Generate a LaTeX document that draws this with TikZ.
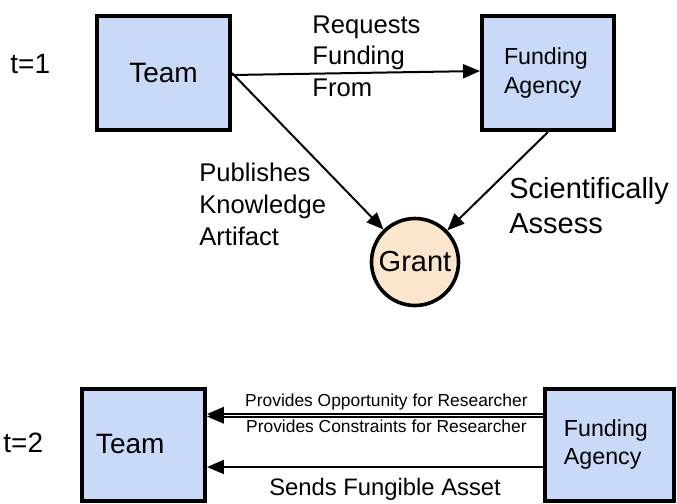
\documentclass[tikz,border=0pt]{standalone}
\usepackage{fontspec}
\setmainfont{Liberation Sans}
\usepackage{xcolor}
\usepackage{tikz}
\usetikzlibrary{arrows.meta}
\definecolor{boxblue}{HTML}{C9DAF8}
\definecolor{grantorange}{HTML}{FCE5CD}

\begin{document}
\begin{tikzpicture}[x=0.5pt,y=-0.5pt,
  box/.style={rectangle, draw, line width=2pt, fill=boxblue, inner sep=0pt},
  lbl/.style={inner sep=0pt, align=left, anchor=north west},
  arr/.style={-{Triangle[length=8.5pt,width=7pt]}, line width=1pt}]
\useasboundingbox (0,0) rectangle (677,504);
% t=1
\node[anchor=base west, inner sep=0pt, font=\fontsize{14}{17}\selectfont] (t1) at (10,73) {t=1};
\node[box, minimum width=66.5pt, minimum height=57pt, font=\fontsize{14}{17}\selectfont] (team1) at (163.5,73) {Team};
\node[box, minimum width=66pt, minimum height=57pt, inner xsep=11pt, text width=44pt, align=left, font=\fontsize{11.6}{14.5}\selectfont] (fund1) at (548,73) {Funding\\Agency};
\node[circle, draw, line width=1.8pt, fill=grantorange, minimum size=43.5pt, inner sep=0pt, font=\fontsize{14.5}{17}\selectfont] (grant) at (415,262) {Grant};
\node[lbl, font=\fontsize{12.8}{15.8}\selectfont] (req) at (312,15) {Requests\\Funding\\From};
\node[lbl, font=\fontsize{12.8}{15.8}\selectfont] (pub) at (199,163) {Publishes\\Knowledge\\Artifact};
\node[lbl, font=\fontsize{14.5}{17.5}\selectfont] (sci) at (509,177) {Scientifically\\Assess};
\draw[arr] ([yshift=-1pt]team1.east) -- ([yshift=1pt]fund1.west);
\draw[arr] (team1.east) -- (grant);
\draw[arr] (fund1.south) -- (grant);
% t=2
\node[anchor=base west, inner sep=0pt, font=\fontsize{14}{17}\selectfont] (t2) at (3,452) {t=2};
\node[box, minimum width=61.5pt, minimum height=56pt, inner xsep=7pt, text width=47.5pt, align=left, font=\fontsize{14}{17}\selectfont] (team2) at (143.5,444.5) {Team};
\node[box, minimum width=64.5pt, minimum height=56pt, inner xsep=9.5pt, text width=45.5pt, align=left, font=\fontsize{11.6}{14}\selectfont] (fund2) at (609.5,444.5) {Funding\\Agency};
\draw[arr] ([yshift=15.25pt]fund2.west) -- ([yshift=15.25pt]team2.east)
  node[pos=0.466, above=1.5pt, inner sep=0pt, font=\fontsize{8.7}{10}\selectfont] (opp) {Provides Opportunity for Researcher};
\draw[arr] ([yshift=14pt]fund2.west) -- ([yshift=14pt]team2.east)
  node[pos=0.466, below=1pt, inner sep=0pt, font=\fontsize{8.7}{10}\selectfont] (con) {Provides Constraints for Researcher};
\draw[arr] ([yshift=-11.25pt]fund2.west) -- ([yshift=-11.25pt]team2.east)
  node[pos=0.47, below=5pt, inner sep=0pt, font=\fontsize{11.9}{14}\selectfont] (asset) {Sends Fungible Asset};
\end{tikzpicture}
\end{document}
